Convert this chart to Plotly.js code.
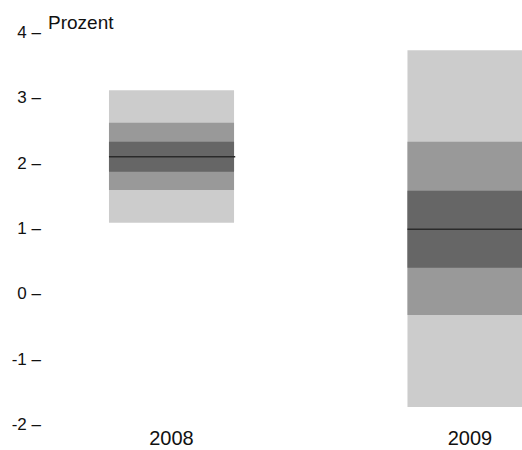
<!DOCTYPE html>
<html>
<head>
<meta charset="utf-8">
<script src="https://cdn.plot.ly/plotly-3.0.1.min.js"></script>
<style>html,body{margin:0;padding:0;background:#fff;}#chart{width:522px;height:450px;}</style>
</head>
<body>
<div id="chart"></div>
<script>
// Data (Prozent)
var years = ['2008', '2009'];
var outerLow  = [1.08, -1.74];
var outerHigh = [3.11, 3.72];
var midLow    = [1.58, -0.33];
var midHigh   = [2.61, 2.32];
var innerLow  = [1.86, 0.39];
var innerHigh = [2.32, 1.57];
var median    = [2.09, 0.98];
var yTicks = [-2, -1, 0, 1, 2, 3, 4];
var yTickText = ['-2 –', '-1 –', '0 –', '1 –', '2 –', '3 –', '4 –'];
var unitLabel = 'Prozent';

var barWidth = 0.419;

function band(lo, hi, color) {
  return {
    type: 'bar',
    x: years,
    base: lo,
    y: hi.map(function (h, i) { return h - lo[i]; }),
    width: barWidth,
    marker: {color: color, line: {width: 0}},
    hoverinfo: 'skip',
    showlegend: false
  };
}

var data = [
  band(outerLow, outerHigh, '#cccccc'),
  band(midLow, midHigh, '#999999'),
  band(innerLow, innerHigh, '#666666')
];

var shapes = median.map(function (m, i) {
  return {
    type: 'line', xref: 'x', yref: 'y',
    x0: i - barWidth / 2, x1: i + barWidth / 2 + 0.004,
    y0: m, y1: m,
    line: {color: '#2a2a2a', width: 1.5}
  };
});

var layout = {
  width: 522, height: 450,
  margin: {l: 42, r: 0, t: 32, b: 26, pad: 0},
  paper_bgcolor: '#ffffff', plot_bgcolor: '#ffffff',
  barmode: 'overlay',
  showlegend: false,
  font: {family: '"Liberation Sans", Arial, sans-serif', color: '#111111'},
  xaxis: {
    type: 'category',
    range: [-0.43384, 1.1742],
    showgrid: false, zeroline: false, showline: false, ticks: '',
    tickfont: {size: 20, color: '#111111'},
    automargin: false, fixedrange: true
  },
  yaxis: {
    range: [-2, 4],
    tickmode: 'array', tickvals: yTicks, ticktext: yTickText,
    showgrid: false, zeroline: false, showline: false, ticks: '',
    tickfont: {size: 17, color: '#111111'},
    automargin: false, fixedrange: true
  },
  shapes: shapes,
  annotations: [{
    text: unitLabel, xref: 'paper', yref: 'paper', x: 0, y: 1,
    xanchor: 'left', yanchor: 'bottom', xshift: 4, yshift: -3,
    showarrow: false, font: {size: 19, color: '#111111'}
  }]
};

Plotly.newPlot('chart', data, layout, {displayModeBar: false, staticPlot: true});
</script>
</body>
</html>
